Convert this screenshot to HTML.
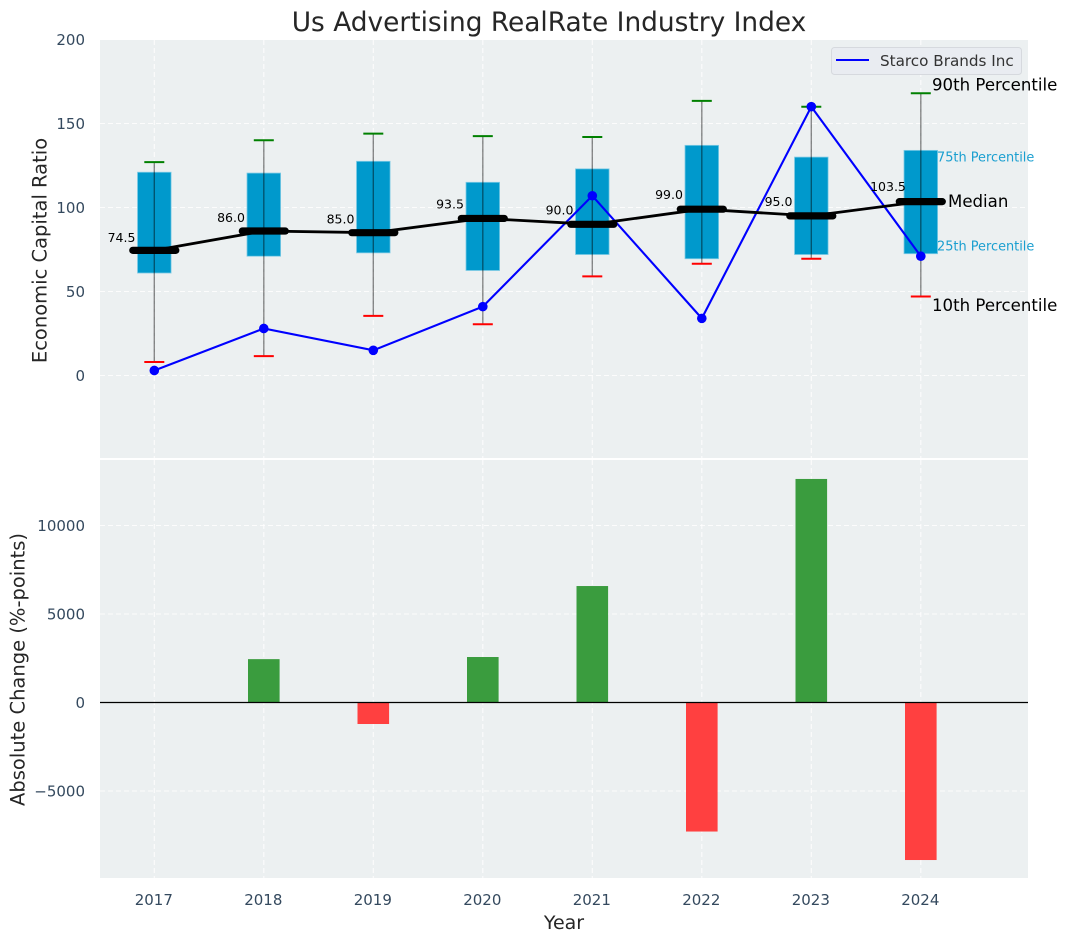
<!DOCTYPE html>
<html>
<head>
<meta charset="utf-8">
<title>Us Advertising RealRate Industry Index</title>
<style>
html,body{margin:0;padding:0;background:#fff;}
svg{display:block;font-family:"DejaVu Sans","Liberation Sans",sans-serif;}
</style>
</head>
<body>
<svg id="chart" width="1067" height="942" viewBox="0 0 1067 942"></svg>
<script>
const years = [2017, 2018, 2019, 2020, 2021, 2022, 2023, 2024];
const p10 = [8, 11.5, 35.5, 30.5, 59, 66.5, 69.5, 47];
const p25 = [61, 71, 73, 62.5, 72, 69.5, 72, 72.5];
const medians = [74.5, 86, 85, 93.5, 90, 99, 95, 103.5];
const p75 = [121, 120.5, 127.5, 115, 123, 137, 130, 134];
const p90 = [127, 140, 144, 142.5, 142, 163.5, 160, 168];
const company = [3, 28, 15, 41, 107, 34, 160, 71];
const changes = [0, 2450, -1215, 2570, 6580, -7290, 12630, -8900];
const topTicks = [0, 50, 100, 150, 200];
const bottomTicks = [-5000, 0, 5000, 10000];
const bottomTickLabels = ['\u22125000', '0', '5000', '10000'];

const NS = 'http://www.w3.org/2000/svg';
const svg = document.getElementById('chart');
const L = 100, R = 1028, T1 = 40, B1 = 458, T2 = 460, B2 = 878;

function x(v) { return 154.3 + (v - 2017) * 109.5; }
function y1(v) { return 375.5 - v * 1.68; }
function y2(v) { return 702.5 - v * 0.0177; }

function add(tag, attrs, name, text) {
  const el = document.createElementNS(NS, tag);
  for (const k in attrs) el.setAttribute(k, attrs[k]);
  
  
  if (text !== undefined) el.textContent = text;
  svg.appendChild(el);
  return el;
}

/* panels */
add('rect', {x: L, y: T1, width: R - L, height: B1 - T1, fill: '#ecf0f1'}, 'top-panel-background');
add('rect', {x: L, y: T2, width: R - L, height: B2 - T2, fill: '#ecf0f1'}, 'bottom-panel-background');

/* grid */
const gridStyle = {stroke: '#ffffff', 'stroke-width': 1.1, 'stroke-dasharray': '5 3', opacity: 0.85};
years.forEach(function (yr) {
  add('line', Object.assign({x1: x(yr), x2: x(yr), y1: T1, y2: B1}, gridStyle), 'top-grid-x-' + yr);
  add('line', Object.assign({x1: x(yr), x2: x(yr), y1: T2, y2: B2}, gridStyle), 'bottom-grid-x-' + yr);
});
topTicks.forEach(function (t) {
  add('line', Object.assign({x1: L, x2: R, y1: y1(t), y2: y1(t)}, gridStyle), 'top-grid-y-' + t);
});
bottomTicks.forEach(function (t) {
  add('line', Object.assign({x1: L, x2: R, y1: y2(t), y2: y2(t)}, gridStyle), 'bottom-grid-y-' + t);
});

/* boxes */
const boxW = 33.6;
years.forEach(function (yr, i) {
  add('rect', {x: x(yr) - boxW / 2, y: y1(p75[i]), width: boxW, height: y1(p25[i]) - y1(p75[i]),
    fill: '#0099cc', stroke: '#7fcbe5', 'stroke-width': 0.8}, 'box-' + yr);
});

/* whiskers and caps */
years.forEach(function (yr, i) {
  add('line', {x1: x(yr), x2: x(yr), y1: y1(p10[i]), y2: y1(p90[i]), stroke: '#000', 'stroke-opacity': 0.45, 'stroke-width': 1.4}, 'whisker-' + yr);
  add('line', {x1: x(yr) - 10, x2: x(yr) + 10, y1: y1(p90[i]), y2: y1(p90[i]), stroke: '#008000', 'stroke-width': 2}, 'cap-p90-' + yr);
  add('line', {x1: x(yr) - 10, x2: x(yr) + 10, y1: y1(p10[i]), y2: y1(p10[i]), stroke: '#ff0000', 'stroke-width': 2}, 'cap-p10-' + yr);
});

/* company line */
add('polyline', {points: years.map(function (yr, i) { return x(yr) + ',' + y1(company[i]); }).join(' '),
  fill: 'none', stroke: '#0000ff', 'stroke-width': 2.1}, 'company-line');

/* median line and bars */
add('polyline', {points: years.map(function (yr, i) { return x(yr) + ',' + y1(medians[i]); }).join(' '),
  fill: 'none', stroke: '#000', 'stroke-width': 2.8}, 'median-line');
years.forEach(function (yr, i) {
  add('line', {x1: x(yr) - 21.5, x2: x(yr) + 21.5, y1: y1(medians[i]), y2: y1(medians[i]),
    stroke: '#000', 'stroke-width': 7.2, 'stroke-linecap': 'round'}, 'median-bar-' + yr);
});

/* company points */
years.forEach(function (yr, i) {
  add('circle', {cx: x(yr), cy: y1(company[i]), r: 4.8, fill: '#0000ff'}, 'company-point-' + yr);
});

/* median labels */
years.forEach(function (yr, i) {
  add('text', {x: x(yr) - 32.8, y: y1(medians[i] * 1.05) - 2, 'text-anchor': 'middle', 'font-size': 12.5, fill: '#000'},
    'median-label-' + yr, medians[i].toFixed(1));
});

/* percentile annotations */
const last = years.length - 1;
add('text', {x: 932, y: y1(p90[last]) - 3, 'font-size': 16.6, fill: '#000'}, 'annotation-90th', '90th Percentile');
add('text', {x: 937, y: y1(p75[last]) + 11, 'font-size': 12.9, fill: '#1a9fd0'}, 'annotation-75th', '75th Percentile');
add('text', {x: 948, y: y1(medians[last]) + 5.5, 'font-size': 16.6, fill: '#000'}, 'annotation-median', 'Median');
add('text', {x: 937, y: y1(p25[last]) - 3, 'font-size': 12.9, fill: '#1a9fd0'}, 'annotation-25th', '25th Percentile');
add('text', {x: 932, y: y1(p10[last]) + 14.5, 'font-size': 16.6, fill: '#000'}, 'annotation-10th', '10th Percentile');

/* legend */
add('rect', {x: 831.5, y: 47.5, width: 190, height: 27, rx: 3, fill: '#e9ecf1', stroke: '#d6d9de', 'stroke-width': 1}, 'legend-box');
add('line', {x1: 836, x2: 869, y1: 60, y2: 60, stroke: '#0000ff', 'stroke-width': 2}, 'legend-line');
add('text', {x: 880, y: 66, 'font-size': 15.2, fill: '#333333'}, 'legend-label', 'Starco Brands Inc');

/* bars */
const barW = 31.6;
years.forEach(function (yr, i) {
  const v = changes[i];
  if (v === 0) return;
  const top = Math.min(y2(v), y2(0));
  add('rect', {x: x(yr) - barW / 2, y: top, width: barW, height: Math.abs(y2(v) - y2(0)),
    fill: v > 0 ? '#3a9c3e' : '#ff4040'}, 'change-bar-' + yr);
});
add('line', {x1: L, x2: R, y1: y2(0), y2: y2(0), stroke: '#000', 'stroke-width': 1.2}, 'zero-line');

/* ticks */
const tickColor = '#34495e';
topTicks.forEach(function (t) {
  add('text', {x: 85, y: y1(t) + 5.5, 'text-anchor': 'end', 'font-size': 15, fill: tickColor}, 'top-y-tick-' + t, String(t));
});
bottomTicks.forEach(function (t, i) {
  add('text', {x: 85, y: y2(t) + 5.5, 'text-anchor': 'end', 'font-size': 15, fill: tickColor}, 'bottom-y-tick-' + t, bottomTickLabels[i]);
});
years.forEach(function (yr) {
  add('text', {x: x(yr) - 0.5, y: 905, 'text-anchor': 'middle', 'font-size': 15, fill: tickColor}, 'x-tick-' + yr, String(yr));
});

/* titles */
add('text', {x: 549, y: 31, 'text-anchor': 'middle', 'font-size': 26.4, fill: '#262626'}, 'chart-title', 'Us Advertising RealRate Industry Index');
add('text', {x: 564, y: 929, 'text-anchor': 'middle', 'font-size': 19, fill: '#262626'}, 'x-axis-title', 'Year');
add('text', {transform: 'translate(46.5,250.5) rotate(-90)', 'text-anchor': 'middle', 'font-size': 19.5, fill: '#262626'}, 'top-y-axis-title', 'Economic Capital Ratio');
add('text', {transform: 'translate(24.5,669.5) rotate(-90)', 'text-anchor': 'middle', 'font-size': 19.5, fill: '#262626'}, 'bottom-y-axis-title', 'Absolute Change (%-points)');
</script>
</body>
</html>
